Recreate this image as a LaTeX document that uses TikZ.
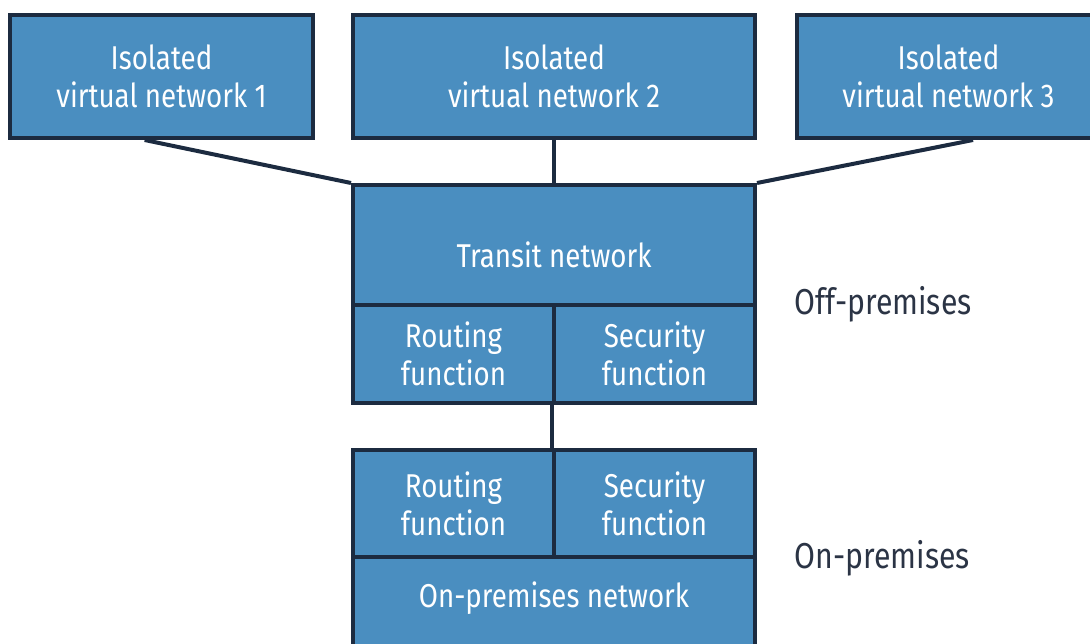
\documentclass[tikz,border=0pt]{standalone}
\usepackage{fontspec}
\setmainfont[FakeStretch=0.84]{Fira Sans}
\usetikzlibrary{calc}
\definecolor{boxfill}{RGB}{74,142,192}
\definecolor{navy}{RGB}{28,43,64}
\definecolor{labeltext}{RGB}{43,52,69}

\begin{document}
\begin{tikzpicture}[x=1pt, y=-1pt,
    netbox/.style={draw=navy, fill=boxfill, line width=4pt, text=white, align=center, inner sep=0pt,
      font=\fontsize{33}{38}\selectfont},
    link/.style={draw=navy, line width=4pt}]

    \useasboundingbox (0,0) rectangle (1090,644);
    \clip (0,0) rectangle (1090,644);

    % isolated networks
    \node[netbox, minimum width=303pt, minimum height=123pt] (net1) at (161.5,76.5) {Isolated\\virtual network 1};
    \node[netbox, minimum width=402pt, minimum height=123pt] (net2) at (554,76.5) {Isolated\\virtual network 2};
    \node[netbox, minimum width=303pt, minimum height=123pt] (net3) at (948.5,76.5) {Isolated\\virtual network 3};

    % off-premises
    \node[netbox, minimum width=402pt, minimum height=120pt, text height=46pt, text depth=0pt] (transit) at (554,245) {Transit network};
    \node[netbox, minimum width=201pt, minimum height=98pt] (route1) at (453.5,354) {Routing\\function};
    \node[netbox, minimum width=201pt, minimum height=98pt] (sec1) at (654.5,354) {Security\\function};

    % on-premises
    \node[netbox, minimum width=201pt, minimum height=107pt] (route2) at (453.5,503.5) {Routing\\function};
    \node[netbox, minimum width=201pt, minimum height=107pt] (sec2) at (654.5,503.5) {Security\\function};
    \node[netbox, minimum width=402pt, minimum height=107pt, text height=0pt, text depth=0pt] (onprem) at (554,610.5) {\raisebox{3pt}{On-premises network}};

    \draw[link] ($(net1.south west)!0.445!(net1.south east)$) -- (transit.north west);
    \draw[link] (net2.south) -- (transit.north);
    \draw[link] ($(net3.south west)!0.58!(net3.south east)$) -- (transit.north east);
    \draw[link] (sec1.south west) -- (sec2.north west);

    \node[anchor=base west, text=labeltext, font=\fontsize{36}{40}\selectfont] (offlabel) at (791,315) {Off-premises};
    \node[anchor=base west, text=labeltext, font=\fontsize{36}{40}\selectfont] (onlabel) at (791,568) {On-premises};

\end{tikzpicture}
\end{document}
